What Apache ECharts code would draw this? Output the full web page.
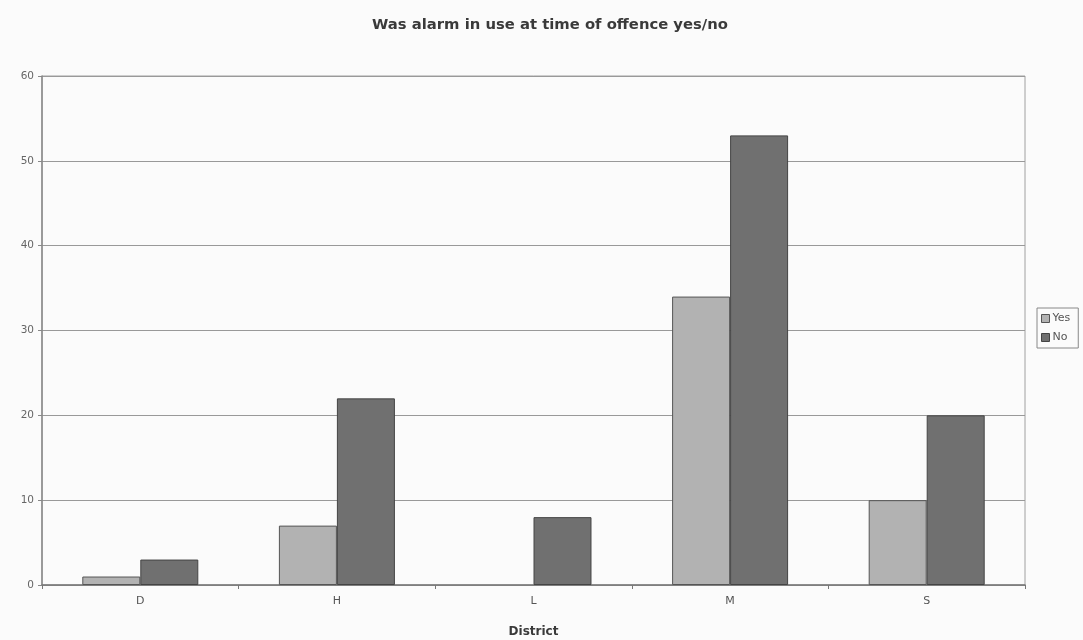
<!DOCTYPE html>
<html>
<head>
<meta charset="utf-8">
<script src="https://cdn.jsdelivr.net/npm/echarts@6/dist/echarts.min.js"></script>
<style>
  html, body { margin: 0; padding: 0; background: #fbfbfb; }
  #chart { width: 1083px; height: 640px; }
</style>
</head>
<body>
<div id="chart"></div>
<script>
// Districts and counts of offences, split by whether the alarm was in use
const districts = ['D', 'H', 'L', 'M', 'S'];
const yesCounts = [1, 7, 0, 34, 10];
const noCounts = [3, 22, 8, 53, 20];
const yTicks = [0, 10, 20, 30, 40, 50, 60];

const yesStyle = { color: '#b2b2b2', borderColor: '#555', borderWidth: 1 };
const noStyle = { color: '#707070', borderColor: '#444', borderWidth: 1 };

// zero-height bars get no outline
const withZeroHidden = arr => arr.map(v => (v === 0 ? { value: v, itemStyle: { borderWidth: 0 } } : v));

const chart = echarts.init(document.getElementById('chart'));
chart.setOption({
  backgroundColor: '#fbfbfb',
  animation: false,
  title: {
    text: 'Was alarm in use at time of offence yes/no',
    left: 545,
    textAlign: 'center',
    top: 13,
    textStyle: { fontFamily: 'DejaVu Sans', fontSize: 14.8, fontWeight: 'bold', color: '#3a3a3a' }
  },
  legend: {
    orient: 'vertical',
    left: 1037,
    top: 308,
    icon: 'rect',
    itemWidth: 8,
    itemHeight: 8,
    itemGap: 8,
    padding: [5, 8, 5, 4],
    borderColor: '#888',
    borderWidth: 1,
    textStyle: { fontFamily: 'DejaVu Sans', fontSize: 11, color: '#555', padding: [0, 0, 0, -2] },
    data: [
      { name: 'Yes', itemStyle: yesStyle },
      { name: 'No', itemStyle: noStyle }
    ]
  },
  grid: {
    left: 42, right: 58, top: 76, bottom: 55,
    outerBoundsMode: 'none',
    containLabel: false,
    show: true, borderColor: '#a0a0a0', borderWidth: 1
  },
  xAxis: {
    type: 'category',
    data: districts,
    name: 'District',
    nameLocation: 'middle',
    nameGap: 41,
    nameTextStyle: { fontFamily: 'DejaVu Sans', fontSize: 12, fontWeight: 'bold', color: '#3a3a3a' },
    axisLine: { lineStyle: { color: '#777', width: 1.5 } },
    axisTick: { show: true, length: 4, lineStyle: { color: '#777' } },
    axisLabel: { fontFamily: 'DejaVu Sans', fontSize: 11, color: '#555', margin: 11 }
  },
  yAxis: {
    type: 'value',
    min: 0,
    max: 60,
    interval: 10,
    axisLine: { show: true, lineStyle: { color: '#888', width: 1.5 } },
    axisTick: { show: true, length: 4, lineStyle: { color: '#888' } },
    axisLabel: {
      fontFamily: 'DejaVu Sans', fontSize: 10.5, color: '#666', margin: 8,
      formatter: v => (yTicks.includes(v) ? String(v) : '')
    },
    splitLine: { lineStyle: { color: '#999', width: 1.2 } }
  },
  series: [
    {
      name: 'Yes',
      type: 'bar',
      data: withZeroHidden(yesCounts),
      barGap: '0%',
      barCategoryGap: '41%',
      itemStyle: yesStyle
    },
    {
      name: 'No',
      type: 'bar',
      data: withZeroHidden(noCounts),
      itemStyle: noStyle
    }
  ]
});
</script>
</body>
</html>
